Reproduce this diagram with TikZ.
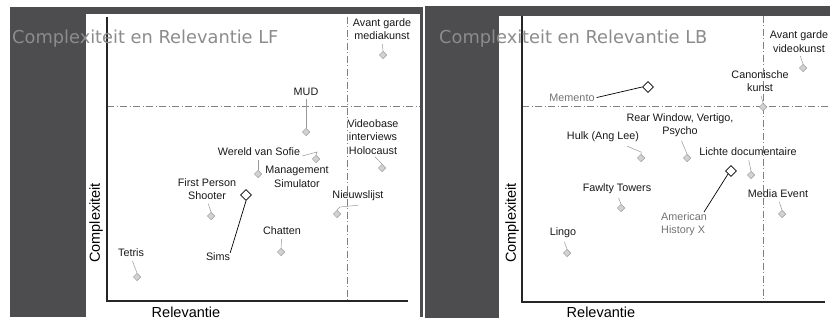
\documentclass[tikz,border=0pt]{standalone}
\usepackage{fontspec}
\setmainfont{Liberation Sans}
\newfontfamily\titlefont{DejaVu Sans}
\usetikzlibrary{shapes.geometric}
\definecolor{framegray}{HTML}{4D4D4F}
\definecolor{titlegray}{HTML}{8C8C8C}

\begin{document}
\begin{tikzpicture}[x=1pt, y=-1pt,
  dot/.style={diamond, draw=gray!80, fill=gray!35, line width=0.5pt, inner sep=0pt, minimum size=7.5pt},
  keydot/.style={diamond, draw=black, fill=white, line width=0.8pt, inner sep=0pt, minimum size=11pt},
  lbl/.style={font=\fontsize{10.8}{13.5}\selectfont, align=center, inner sep=0pt, text=black!90},
  keylbl/.style={lbl, text=black!55},
  lead/.style={draw=gray!80, line width=0.5pt},
  keylead/.style={draw=black, line width=0.7pt},
  axis/.style={line width=1.5pt, black!85},
  quad/.style={black!50, line width=0.8pt, dash pattern=on 7pt off 2.5pt on 1pt off 2.5pt},
  ttl/.style={font=\titlefont\fontsize{17.8}{20}\selectfont, text=titlegray, anchor=base west, inner sep=0pt},
  axlbl/.style={font=\fontsize{14.5}{16}\selectfont, inner sep=0pt}]
\useasboundingbox (0,0) rectangle (830,320);
% frames
\fill[framegray] (10,7) rectangle (423,317);
\fill[white] (86,14) rectangle (420,317);
\fill[framegray] (425,6) rectangle (830,318);
\fill[white] (499,16) rectangle (830,320);

% panel LF
\draw[quad] (107,106) -- (420,106);
\draw[quad] (347,17) -- (347,301);
\draw[axis] (107,17) -- (107,301) -- (408,301);
\node[axlbl, rotate=90] (yLF) at (96,223) {Complexiteit};
\node[axlbl] (xLF) at (186,312) {Relevantie};

\node[dot] (avant) at (383,55) {};
\node[lbl] (avantL) at (382,29) {Avant garde\\mediakunst};
\node[dot] (mud) at (306,132) {};
\node[lbl] (mudL) at (306,92) {MUD};
\node[dot] (video) at (382,168) {};
\node[lbl] (videoL) at (373,137) {Videobase\\interviews\\Holocaust};
\node[dot] (sofie) at (258,174) {};
\node[lbl] (sofieL) at (259,152) {Wereld van Sofie};
\node[dot] (mgmt) at (316,159) {};
\node[lbl] (mgmtL) at (297,177) {Management\\Simulator};
\node[dot] (fps) at (211,216) {};
\node[lbl] (fpsL) at (207,189) {First Person\\Shooter};
\node[keydot] (sims) at (246,195) {};
\node[lbl] (simsL) at (218,257) {Sims};
\node[dot] (nieuws) at (337,214) {};
\node[lbl] (nieuwsL) at (358,196) {Nieuwslijst};
\node[dot] (chat) at (281,252) {};
\node[lbl] (chatL) at (282,231) {Chatten};
\node[dot] (tetris) at (137,277) {};
\node[lbl] (tetrisL) at (131,253) {Tetris};

\draw[lead, shorten <=4pt] (avantL.south) -- (avant.north);
\draw[lead, shorten <=3pt] (mudL.south) -- (mud.north);
\draw[lead, shorten <=3pt] (videoL.south) -- (video.north);
\draw[lead, shorten <=4pt] (sofieL.south west -| sofie) -- (sofie.north);
\draw[lead] ([shift={(2,4)}]sofieL.east) -- (317,152) -- (mgmt.north);
\draw[lead, shorten <=4pt] (fpsL.south) -- (fps.north);
\draw[keylead] (sims.south) -- (simsL.north east);
\draw[lead] (nieuws.north) -- (340,207) -- ([yshift=-4pt]nieuwsL.south);
\draw[lead, shorten <=4pt] (chatL.south) -- (chat.north);
\draw[lead, shorten <=4pt] (tetrisL.south) -- (tetris.north);

% panel LB
\draw[quad] (522,106) -- (830,106);
\draw[quad] (763,16) -- (763,302);
\draw[axis] (522,16) -- (522,302) -- (825,302);
\node[axlbl, rotate=90] (yLB) at (512,223) {Complexiteit};
\node[axlbl] (xLB) at (601,312) {Relevantie};

\node[dot] (avant2) at (803,68) {};
\node[lbl] (avant2L) at (799,41.5) {Avant garde\\videokunst};
\node[dot] (canon) at (763,107) {};
\node[lbl] (canonL) at (760,81) {Canonische\\kunst};
\node[keydot] (memento) at (648,87) {};
\node[keylbl] (mementoL) at (572,98) {Memento};
\node[dot] (rear) at (687,158) {};
\node[lbl] (rearL) at (680,125) {Rear Window, Vertigo,\\Psycho};
\node[dot] (hulk) at (641,158) {};
\node[lbl] (hulkL) at (603,137) {Hulk (Ang Lee)};
\node[dot] (licht) at (751,175) {};
\node[lbl] (lichtL) at (748,152) {Lichte documentaire};
\node[keydot] (amhx) at (731,171) {};
\node[keylbl, anchor=west, align=left] (amhxL) at (661,224) {American\\History X};
\node[dot] (fawlty) at (621,208) {};
\node[lbl] (fawltyL) at (617,189) {Fawlty Towers};
\node[dot] (media) at (782,214) {};
\node[lbl] (mediaL) at (778,194) {Media Event};
\node[dot] (lingo) at (567,253) {};
\node[lbl] (lingoL) at (563,233) {Lingo};

\draw[lead, shorten <=4pt] (avant2L.south) -- (avant2.north);
\draw[lead, shorten <=4pt] (canonL.south) -- (canon.north);
\draw[keylead, shorten >=2pt] (memento.west) -- (mementoL.east);
\draw[lead, shorten <=4pt] (rearL.south) -- (rear.north);
\draw[lead] ([xshift=-12pt, yshift=-4pt]hulkL.south east) -- (641,152) -- (hulk.north);
\draw[lead, shorten <=4pt] (lichtL.south) -- (licht.north);
\draw[keylead] (amhx.south west) -- ([xshift=-3pt]amhxL.north east);
\draw[lead, shorten <=4pt] (fawltyL.south) -- (fawlty.north);
\draw[lead, shorten <=4pt] (mediaL.south) -- (media.north);
\draw[lead, shorten <=4pt] (lingoL.south) -- (lingo.north);

% titles
\node[ttl] (titleLF) at (12,44) {Complexiteit en Relevantie LF};
\node[ttl] (titleLB) at (439,44) {Complexiteit en Relevantie LB};
\end{tikzpicture}
\end{document}
